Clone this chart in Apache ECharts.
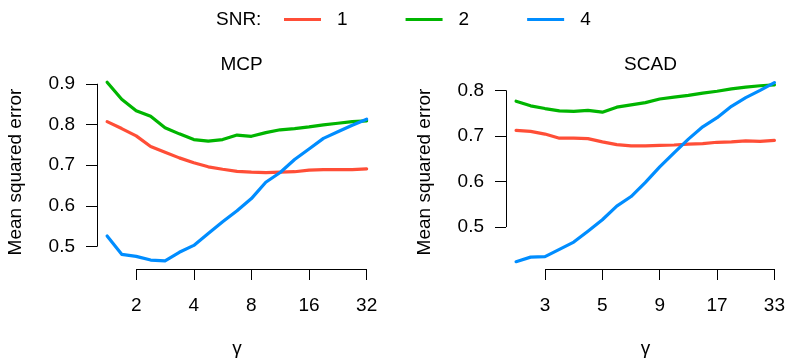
<!DOCTYPE html>
<html>
<head>
<meta charset="utf-8">
<script src="https://cdn.jsdelivr.net/npm/echarts@6/dist/echarts.min.js"></script>
<style>
html,body{margin:0;padding:0;background:#fff;}
#main{width:788px;height:363px;}
</style>
</head>
<body>
<div id="main"></div>
<script>
// gamma grid (MCP uses gamma, SCAD uses gamma+1)
var mcpGamma=[1.41,1.68,2,2.38,2.83,3.36,4,4.76,5.66,6.73,8,9.51,11.31,13.45,16,19.03,22.63,26.91,32];
var scadGamma=[2.41,2.68,3,3.38,3.83,4.36,5,5.76,6.66,7.73,9,10.51,12.31,14.45,17,20.03,23.63,27.91,33];
var mcpTicks=[2,4,8,16,32];
var scadTicks=[3,5,9,17,33];
var mcpYTicks=[0.5,0.6,0.7,0.8,0.9];
var scadYTicks=[0.5,0.6,0.7,0.8];
var snrNames=['1','2','4'];
var colors=['#FF4E37','#00B500','#008DFF'];

// MSE, MCP
var mcpSnr1=[0.807,0.790,0.772,0.746,0.732,0.718,0.706,0.696,0.690,0.685,0.683,0.682,0.683,0.684,0.688,0.689,0.689,0.689,0.691];
var mcpSnr2=[0.904,0.862,0.834,0.820,0.792,0.777,0.763,0.759,0.763,0.774,0.771,0.780,0.787,0.790,0.794,0.799,0.803,0.807,0.809];
var mcpSnr4=[0.526,0.481,0.476,0.467,0.465,0.486,0.503,0.532,0.561,0.588,0.618,0.658,0.682,0.714,0.740,0.766,0.782,0.798,0.813];
// MSE, SCAD
var scadSnr1=[0.712,0.710,0.704,0.695,0.695,0.694,0.687,0.681,0.678,0.678,0.679,0.680,0.682,0.683,0.686,0.687,0.689,0.688,0.690];
var scadSnr2=[0.776,0.766,0.760,0.755,0.754,0.756,0.752,0.763,0.768,0.773,0.781,0.785,0.789,0.794,0.798,0.803,0.807,0.810,0.812];
var scadSnr4=[0.424,0.434,0.435,0.451,0.467,0.491,0.516,0.546,0.567,0.598,0.632,0.663,0.693,0.720,0.740,0.765,0.784,0.800,0.817];

var font='"Liberation Sans", Arial, Helvetica, sans-serif';
var fs=19;
var xMin=0.32,xMax=5.18;//log2 scale
var mcpY=[0.445,0.9216];
var scadY=[0.408,0.8336];

var dom=document.getElementById('main');
var myChart=echarts.init(dom,null,{renderer:'canvas'});

function pairs(xs,ys,shift){
	var out=[];
	for(var i=0;i<xs.length;i++){
		out.push([Math.log2(xs[i]-shift),ys[i]]);
	}
	return out;
}

function xAxisOf(idx,ticks,shift){
	var vals=ticks.map(function(t){return Math.log2(t-shift);});
	return {
		type:'value',gridIndex:idx,min:xMin,max:xMax,
		name:'γ',nameLocation:'middle',nameGap:70,
		nameTextStyle:{fontSize:fs,fontFamily:font,color:'#000'},
		axisLine:{show:false},
		splitLine:{show:false},
		axisTick:{show:true,length:11,customValues:vals,lineStyle:{color:'#000',width:1}},
		axisLabel:{show:true,margin:27,fontSize:fs,fontFamily:font,color:'#000',customValues:vals,
			formatter:function(v){return String(Math.round(Math.pow(2,v)+shift));}}
	};
}
function yAxisOf(idx,range,ticks){
	return {
		type:'value',gridIndex:idx,min:range[0],max:range[1],
		name:'Mean squared error',nameLocation:'middle',nameGap:72,
		nameTextStyle:{fontSize:fs,fontFamily:font,color:'#000'},
		axisLine:{show:false},
		splitLine:{show:false},
		axisTick:{show:true,length:11,customValues:ticks,lineStyle:{color:'#000',width:1}},
		axisLabel:{show:true,margin:22,fontSize:fs,fontFamily:font,color:'#000',customValues:ticks,
			formatter:function(v){return v.toFixed(1);}}
	};
}
//坐标轴线只画到首尾刻度
function axisLines(yRange,yTicks,xTicks,shift){
	return {
		silent:true,symbol:'none',animation:false,
		label:{show:false},
		lineStyle:{color:'#000',width:1,type:'solid'},
		emphasis:{disabled:true},
		data:[
			[{coord:[xMin,yTicks[0]]},{coord:[xMin,yTicks[yTicks.length-1]]}],
			[{coord:[Math.log2(xTicks[0]-shift),yRange[0]]},{coord:[Math.log2(xTicks[xTicks.length-1]-shift),yRange[0]]}]
		]
	};
}
function lineSeries(name,color,data,idx){
	return {
		name:name,type:'line',xAxisIndex:idx,yAxisIndex:idx,
		data:data,showSymbol:false,symbol:'none',clip:false,
		lineStyle:{color:color,width:3.2,cap:'round',join:'round'},
		itemStyle:{color:color},
		emphasis:{disabled:true}
	};
}

var series=[];
var mcpSets=[mcpSnr1,mcpSnr2,mcpSnr4];
var scadSets=[scadSnr1,scadSnr2,scadSnr4];
for(var i=0;i<3;i++){
	series.push(lineSeries(snrNames[i],colors[i],pairs(mcpGamma,mcpSets[i],0),0));
	series.push(lineSeries(snrNames[i],colors[i],pairs(scadGamma,scadSets[i],1),1));
}
series[0].markLine=axisLines(mcpY,mcpYTicks,mcpTicks,0);
series[1].markLine=axisLines(scadY,scadYTicks,scadTicks,1);

var option={
	animation:false,
	backgroundColor:'#fff',
	textStyle:{fontFamily:font},
	title:[
		{text:'MCP',left:236.5,top:50,textAlign:'center',textStyle:{fontSize:fs,fontWeight:'normal',color:'#000',fontFamily:font}},
		{text:'SCAD',left:645.5,top:50,textAlign:'center',textStyle:{fontSize:fs,fontWeight:'normal',color:'#000',fontFamily:font}},
		{text:'SNR:',left:211,top:5,textStyle:{fontSize:fs,fontWeight:'normal',color:'#000',fontFamily:font}}
	],
	legend:{
		data:snrNames,left:279,top:5,
		icon:'rect',itemWidth:37,itemHeight:3.2,itemGap:58,
		textStyle:{fontSize:fs,fontFamily:font,color:'#000',padding:[0,0,0,11]}
	},
	grid:[
		{left:97,top:75,width:280,height:199},
		{left:506,top:75,width:279,height:199}
	],
	xAxis:[xAxisOf(0,mcpTicks,0),xAxisOf(1,scadTicks,1)],
	yAxis:[yAxisOf(0,mcpY,mcpYTicks),yAxisOf(1,scadY,scadYTicks)],
	series:series
};
if(option && typeof option==="object"){
	myChart.setOption(option,true);
}
</script>
</body>
</html>
